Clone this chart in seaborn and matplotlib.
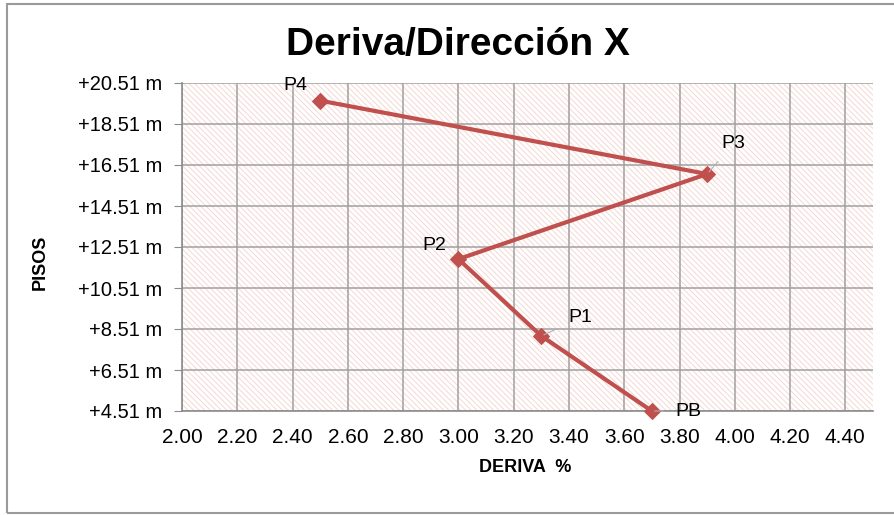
import numpy as np
import pandas as pd
import matplotlib
matplotlib.use("Agg")
import matplotlib.pyplot as plt
from matplotlib.patches import Rectangle
import seaborn as sns

# values
pisos = ["PB", "P1", "P2", "P3", "P4"]
deriva = [3.70, 3.30, 3.00, 3.90, 2.50]
altura = [4.51, 8.17, 11.92, 16.07, 19.65]

x_ticks = [2.00, 2.20, 2.40, 2.60, 2.80, 3.00, 3.20, 3.40, 3.60, 3.80, 4.00, 4.20, 4.40]
y_ticks = [4.51, 6.51, 8.51, 10.51, 12.51, 14.51, 16.51, 18.51, 20.51]
y_labels = [f"+{v:.2f} m" for v in y_ticks]

# label offsets (points) for each floor tag
label_offsets = {"PB": (26, 0), "P1": (28, 13), "P2": (-17, 10), "P3": (19, 22), "P4": (-18, 11)}
leader = {"PB", "P1", "P3"}

sns.set_style("white")
plt.rcParams["font.family"] = ["Liberation Sans", "DejaVu Sans"]
plt.rcParams["text.color"] = "black"
plt.rcParams["xtick.color"] = "black"
plt.rcParams["ytick.color"] = "black"
plt.rcParams["hatch.linewidth"] = 0.7

df = pd.DataFrame({"piso": pisos, "deriva": deriva, "altura": altura})

fig = plt.figure(figsize=(8.95, 5.15), dpi=100)
ax = fig.add_axes([182 / 895, 1 - 411 / 515, (873 - 182) / 895, (411 - 83) / 515])

# outer frame of the chart object
fig.patches.append(Rectangle((7 / 895, 2 / 515), 1.0, 509 / 515, transform=fig.transFigure,
                             fill=False, edgecolor="#9a9a9a", lw=1.5, zorder=0))

# hatched plot area
ax.set_facecolor("white")
ax.add_patch(Rectangle((0, 0), 1, 1, transform=ax.transAxes, facecolor="white",
                       edgecolor="#f5d8d3", hatch="\\\\\\\\\\\\", lw=0, zorder=0))

sns.lineplot(data=df, x="deriva", y="altura", sort=False, estimator=None, ax=ax,
             color="#c0504d", lw=3, marker="D", markersize=8, markeredgecolor="#c0504d",
             zorder=3, clip_on=False)

for p, x, y in zip(pisos, deriva, altura):
    dx, dy = label_offsets[p]
    props = None
    if p in leader:
        props = dict(arrowstyle="-", color="#b0b0b0", lw=0.8, shrinkA=6, shrinkB=2)
    ax.annotate(p, (x, y), xytext=(dx, dy), textcoords="offset points",
                ha="center", va="center", fontsize=14, color="black",
                arrowprops=props, zorder=4)

ax.set_xlim(2.0, 4.5)
ax.set_ylim(4.51, 20.51)
ax.set_xticks(x_ticks)
ax.set_xticklabels([f"{v:.2f}" for v in x_ticks])
ax.set_yticks(y_ticks)
ax.set_yticklabels(y_labels)
ax.grid(True, color="#a0a0a0", lw=1.1, zorder=1)
for line in ax.get_xgridlines() + ax.get_ygridlines():
    line.set_zorder(1)

for s in ["top", "right"]:
    ax.spines[s].set_visible(False)
for s in ["left", "bottom"]:
    ax.spines[s].set_color("#8c8c8c")
    ax.spines[s].set_linewidth(1.2)

ax.tick_params(axis="y", length=6, color="#8c8c8c", labelsize=14.5, pad=8, left=True)
ax.tick_params(axis="x", length=0, labelsize=15, pad=12)

ax.set_xlabel("")
ax.set_ylabel("")
fig.text(525 / 895, 1 - 468 / 515, "DERIVA  %", ha="center", va="center",
         fontsize=13, fontweight="bold")
fig.text(40 / 895, 1 - 262 / 515, "PISOS", ha="center", va="center", rotation=90,
         fontsize=13, fontweight="bold")
fig.text(458 / 895, 1 - 45 / 515, "Deriva/Dirección X", ha="center", va="center",
         fontsize=28, fontweight="bold",
         family=["Liberation Sans Narrow", "Liberation Sans", "DejaVu Sans"])

fig.savefig("out.png", dpi=100)
